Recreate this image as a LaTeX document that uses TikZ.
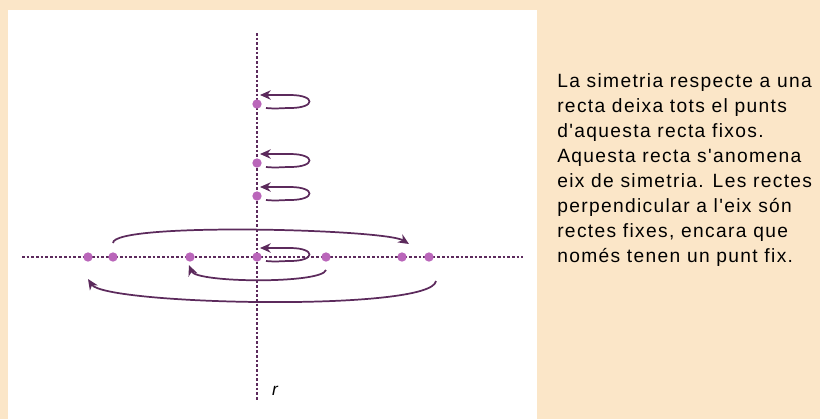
\documentclass[tikz,border=0pt]{standalone}
\usepackage{fontspec}
\usepackage{tikz}
\usetikzlibrary{arrows.meta, calc}
\setmainfont{Liberation Sans}
\newfontfamily\notefont[LetterSpace=7]{Liberation Sans}
\definecolor{fons}{RGB}{251,230,200}
\definecolor{morat}{RGB}{92,42,92}
\definecolor{punts}{RGB}{186,102,186}

\begin{document}
\begin{tikzpicture}[
  x=0.75pt, y=-0.75pt,
  eix/.style={morat, line width=1pt, dash pattern=on 2pt off 1.5pt},
  punt/.style={circle, fill=punts, inner sep=0pt, minimum size=7pt},
  fletxa/.style={morat, line width=1.3pt, -{Stealth[length=8pt, width=7pt, inset=2.5pt]}}
]
  \useasboundingbox (0,0) rectangle (820,419);
  \fill[fons] (0,0) rectangle (820,419);
  \fill[white] (8,10) rectangle (537,419);

  % eixos
  \coordinate (rdalt) at (257,33);
  \coordinate (rbaix) at (257,400);
  \coordinate (hesq) at (22,257);
  \coordinate (hdre) at (523,257);
  \draw[eix] (rdalt) -- (rbaix);
  \draw[eix] (hesq) -- (hdre);
  \node[font=\itshape\fontsize{13}{13}\selectfont, inner sep=0pt] (r) at (275,391) {r};

  % punts de l'eix
  \node[punt] (v1) at (257,104) {};
  \node[punt] (v2) at (257,163) {};
  \node[punt] (v3) at (257,196) {};
  \node[punt] (o) at (257,257) {};
  % punts de la recta perpendicular
  \node[punt] (h1) at (88,257) {};
  \node[punt] (h2) at (113,257) {};
  \node[punt] (h3) at (190,257) {};
  \node[punt] (h5) at (326,257) {};
  \node[punt] (h6) at (402,257) {};
  \node[punt] (h7) at (429,257) {};

  % punts fixos
  \foreach \p in {v1,v2,v3,o}
    \draw[fletxa] ($(\p)+(9,4)$) .. controls +(10,1) and +(-8,0) .. ++(24,0) .. controls +(26,0) and +(26,0) .. ++(0,-13) -- ++(-30,0);

  % simetrics
  \draw[fletxa] ($(h2)+(0,-14)$) .. controls +(0,-21) and +(-24,-15) .. ($(h6)+(7,-13)$);
  \draw[fletxa] ($(h5)+(0,13)$) .. controls +(-4,14) and +(7,18) .. ($(h3)+(-1,8)$);
  \draw[fletxa] ($(h7)+(7,24)$) .. controls +(-4,31) and +(17,26) .. ($(h1)+(0,22)$);

  \node[anchor=north west, align=left, inner sep=0pt,
        font=\notefont\fontsize{14.4}{18.75}\selectfont] (nota) at (557,73)
    {La simetria respecte a una\\
     recta deixa tots el punts\\
     d'aquesta recta fixos.\\
     Aquesta recta s'anomena\\
     eix de simetria. Les rectes\\
     perpendicular a l'eix són\\
     rectes fixes, encara que\\
     només tenen un punt fix.};
\end{tikzpicture}
\end{document}
